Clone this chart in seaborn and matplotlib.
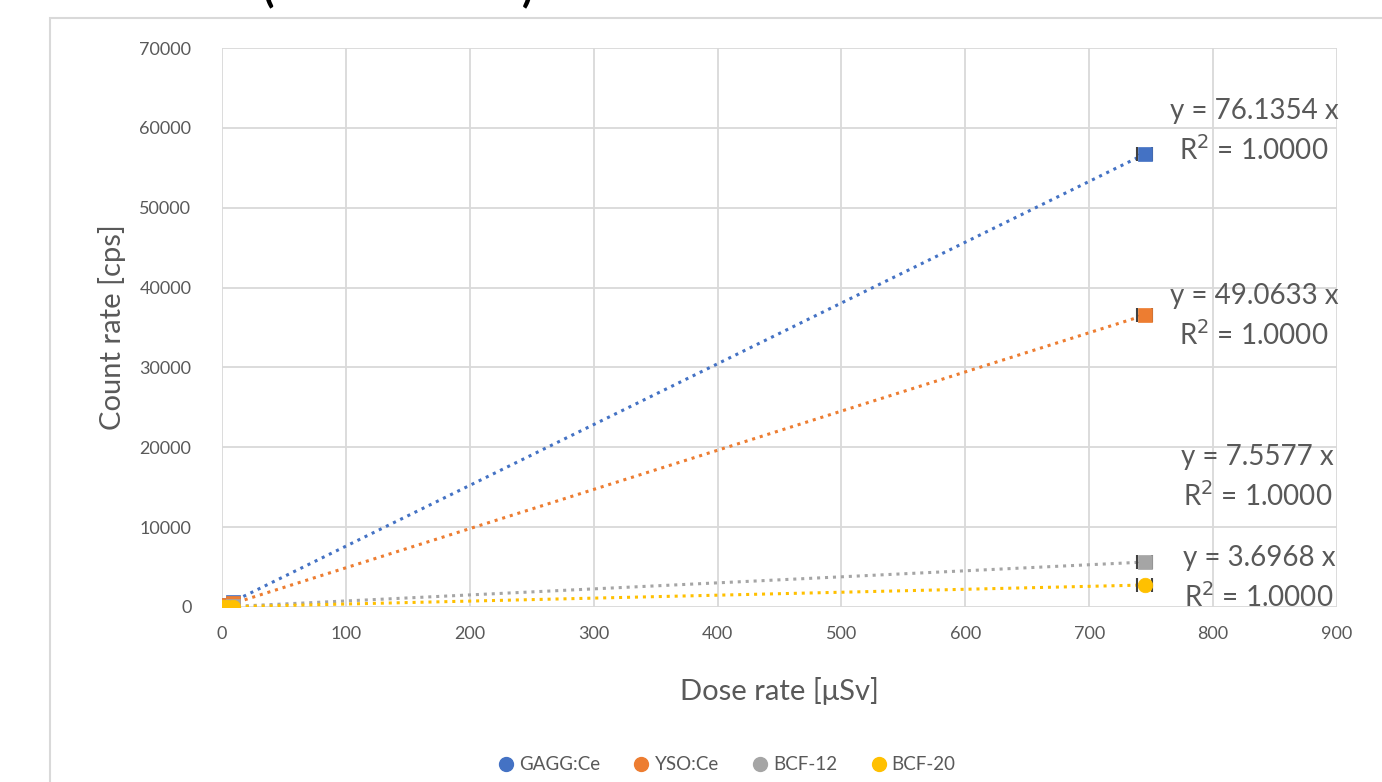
import numpy as np
import pandas as pd
import matplotlib
matplotlib.use("Agg")
import matplotlib.pyplot as plt
from matplotlib.lines import Line2D
from matplotlib.patches import Rectangle
import seaborn as sns

# Measured dose rates [uSv] and count rates [cps] per detector
dose = [0.5, 4.0, 9.0, 745.0]
gagg_ce = [38, 305, 685, 56721]
yso_ce = [25, 196, 442, 36552]
bcf_12 = [4, 30, 68, 5630]
bcf_20 = [2, 15, 33, 2754]
dose_err = 6.0

detectors = ["GAGG:Ce", "YSO:Ce", "BCF-12", "BCF-20"]
slopes = [76.1354, 49.0633, 7.5577, 3.6968]
r_squared = [1.0000, 1.0000, 1.0000, 1.0000]
colors = ["#4472C4", "#ED7D31", "#A5A5A5", "#FFC000"]
markers = ["s", "s", "s", "o"]

x_ticks = [0, 100, 200, 300, 400, 500, 600, 700, 800, 900]
y_ticks = [0, 10000, 20000, 30000, 40000, 50000, 60000, 70000]

# label anchor (centre) of each trendline equation in data units
eq_x = [833, 833, 836, 837]
eq_y = [59600, 36350, 16250, 3600]

sns.set_theme(style="whitegrid")
plt.rcParams["font.family"] = ["Lato", "DejaVu Sans"]

fig = plt.figure(figsize=(13.82, 7.82), dpi=100)
ax = fig.add_axes([0.1606, 0.2238, 0.8068, 0.7148])

# chart frame
fig.patches.append(Rectangle((50 / 1382, -0.05), 1.1, 1 - 18 / 782 + 0.05,
                             transform=fig.transFigure, fill=False,
                             edgecolor="#d9d9d9", linewidth=1.5, zorder=0))
# title brackets running off the top edge
fig.text(262 / 1382, 1 - 8 / 782, "(", fontsize=30, fontweight="bold",
         color="black", va="bottom", ha="left")
fig.text(522 / 1382, 1 - 8 / 782, ")", fontsize=30, fontweight="bold",
         color="black", va="bottom", ha="left")

series = [gagg_ce, yso_ce, bcf_12, bcf_20]
frames = []
for name, vals in zip(detectors, series):
    frames.append(pd.DataFrame({"dose": dose, "rate": vals, "detector": name}))
df = pd.concat(frames, ignore_index=True)

# linear trendlines through the origin
fit_frames = []
for name, k in zip(detectors, slopes):
    xs = np.array([0.0, dose[-1]])
    fit_frames.append(pd.DataFrame({"dose": xs, "rate": k * xs, "detector": name}))
fit = pd.concat(fit_frames, ignore_index=True)

for name, c in zip(detectors, colors):
    sub = fit[fit["detector"] == name]
    sns.lineplot(data=sub, x="dose", y="rate", ax=ax, color=c,
                 linestyle=(0, (1, 1.6)), linewidth=2.2, legend=False)

for name, c, m in zip(detectors, colors, markers):
    sub = df[df["detector"] == name]
    ax.errorbar(sub["dose"].iloc[-1], sub["rate"].iloc[-1], xerr=dose_err,
                fmt="none", ecolor="#404040", elinewidth=1, capsize=5,
                capthick=1.5, zorder=3)
    sns.scatterplot(data=sub, x="dose", y="rate", ax=ax, color=c, marker=m,
                    s=110, edgecolor=c, linewidth=0.5, legend=False, zorder=4)

for k, r2, tx, ty in zip(slopes, r_squared, eq_x, eq_y):
    ax.text(tx, ty, f"y = {k:.4f} x\nR$^2$ = {r2:.4f}", ha="center", va="center",
            multialignment="center", fontsize=20, color="#595959",
            linespacing=1.45, clip_on=False)

ax.set_xlim(0, 900)
ax.set_ylim(0, 70000)
ax.set_xticks(x_ticks)
ax.set_yticks(y_ticks)
ax.tick_params(axis="both", labelsize=13, labelcolor="#595959", length=0)
ax.tick_params(axis="x", pad=14)
ax.tick_params(axis="y", pad=22)
ax.grid(True, color="#d9d9d9", linewidth=1.3)
for s in ax.spines.values():
    s.set_visible(False)
ax.set_xlabel("Dose rate [μSv]", fontsize=21, color="#595959", labelpad=25)
ax.set_ylabel("Count rate [cps]", fontsize=21, color="#595959", labelpad=10)

handles = [Line2D([], [], marker="o", linestyle="none", markersize=10,
                  markerfacecolor=c, markeredgecolor=c) for c in colors]
fig.legend(handles, detectors, loc="center", bbox_to_anchor=(0.522, 0.022),
           ncol=4, frameon=False, fontsize=13.5, handletextpad=-0.3,
           columnspacing=1.2, labelcolor="#595959")

fig.savefig("out.png", dpi=100)
